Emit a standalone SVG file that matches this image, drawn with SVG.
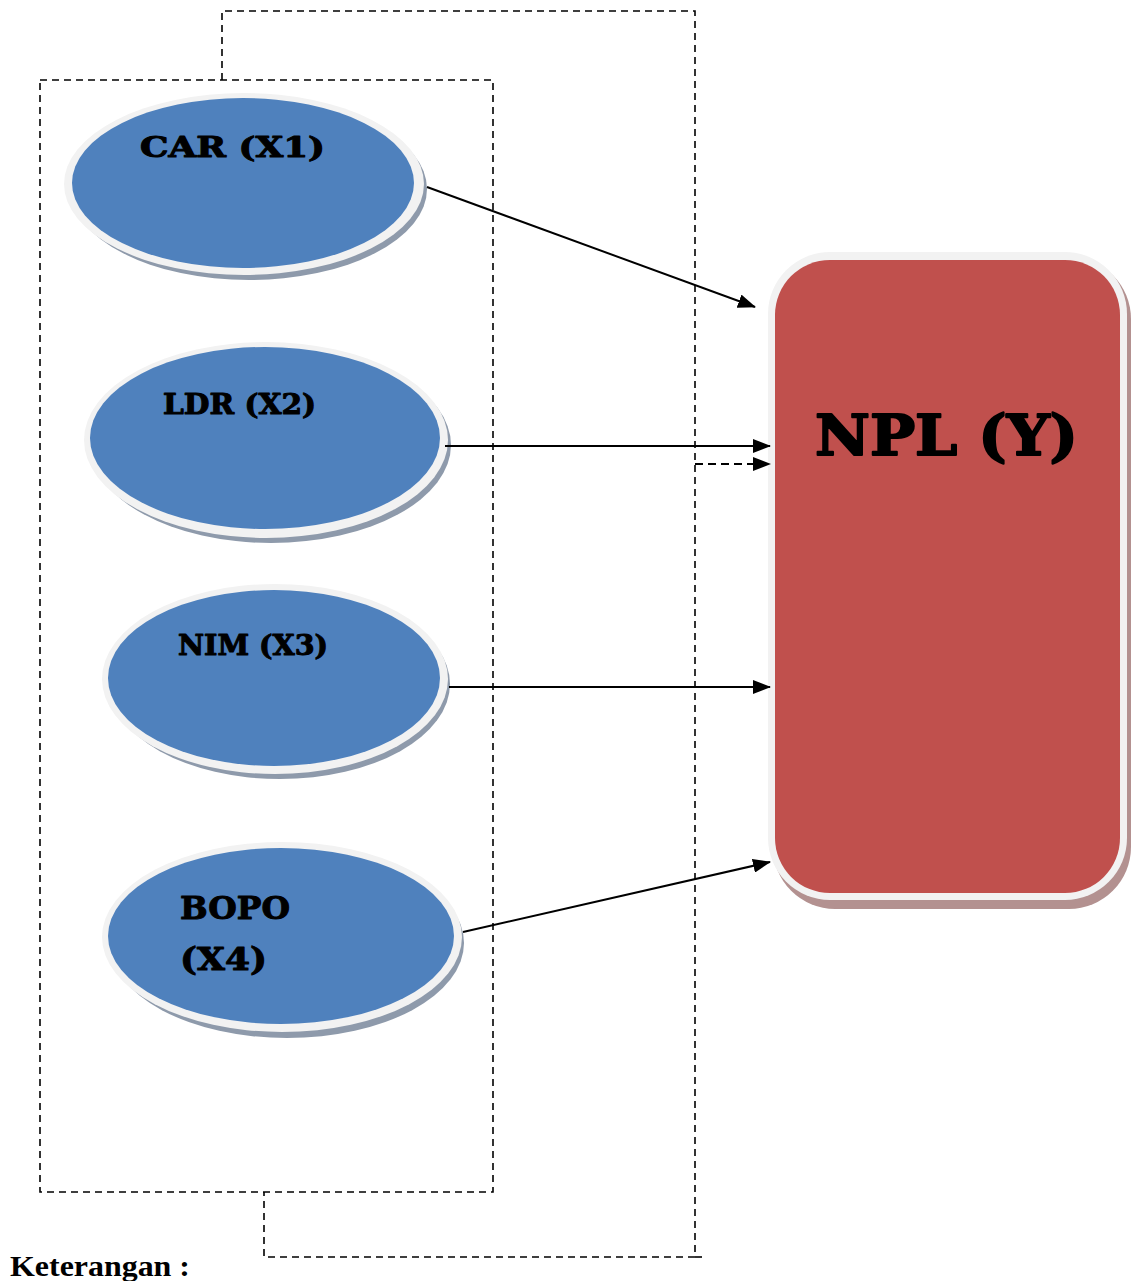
<svg xmlns="http://www.w3.org/2000/svg" width="1139" height="1281" viewBox="0 0 1139 1281">
<style>
.dash{fill:none;stroke:#000;stroke-width:1.6;stroke-dasharray:7,5}
.conn{fill:none;stroke:#000;stroke-width:2}
.shadowE{fill:#8e9aab}
.rimE{fill:#f2f2f2}
.bodyE{fill:#4f81bd}
.lbl{font-family:"DejaVu Serif","Liberation Serif",serif;font-weight:bold;fill:#000;stroke:#000;stroke-width:1;stroke-linejoin:round}
</style>
<defs>
<marker id="ahb" markerWidth="18" markerHeight="14" refX="17" refY="7" orient="auto" markerUnits="userSpaceOnUse" viewBox="0 0 18 14">
<path d="M0,0 L18,7 L0,14 z" fill="#000"/>
</marker>
</defs>
<rect width="1139" height="1281" fill="#fff"/>
<g id="groups">
<rect class="dash" x="40" y="80" width="453" height="1112"/>
<path class="dash" d="M222,80 V11 H695 V1257 H264 V1192"/>
<line class="dash" x1="695" y1="1257" x2="706" y2="1257"/>
</g>
<g id="node-car">
<ellipse class="shadowE" cx="249" cy="189" rx="178" ry="91"/>
<ellipse class="rimE" cx="244" cy="184" rx="180" ry="91"/>
<ellipse class="bodyE" cx="243" cy="183" rx="171" ry="85"/>
<text class="lbl" x="140" y="157" font-size="27" textLength="185" lengthAdjust="spacingAndGlyphs">CAR (X1)</text>
</g>
<g id="node-ldr">
<ellipse class="shadowE" cx="271" cy="445" rx="180" ry="98"/>
<ellipse class="rimE" cx="266" cy="440" rx="182" ry="98"/>
<ellipse class="bodyE" cx="265" cy="438" rx="175" ry="91"/>
<text class="lbl" x="163" y="414" font-size="27" textLength="153" lengthAdjust="spacingAndGlyphs">LDR (X2)</text>
</g>
<g id="node-nim">
<ellipse class="shadowE" cx="280" cy="684" rx="170" ry="95"/>
<ellipse class="rimE" cx="275" cy="679" rx="173" ry="95"/>
<ellipse class="bodyE" cx="274" cy="678" rx="166" ry="88"/>
<text class="lbl" x="178" y="655" font-size="27" textLength="150" lengthAdjust="spacingAndGlyphs">NIM (X3)</text>
</g>
<g id="node-bopo">
<ellipse class="shadowE" cx="287" cy="943" rx="177" ry="95"/>
<ellipse class="rimE" cx="282" cy="937" rx="180" ry="95"/>
<ellipse class="bodyE" cx="281" cy="936" rx="173" ry="88"/>
<text class="lbl" x="180" y="919" font-size="32" textLength="110" lengthAdjust="spacingAndGlyphs">BOPO</text>
<text class="lbl" x="180" y="970" font-size="32" textLength="87" lengthAdjust="spacingAndGlyphs">(X4)</text>
</g>
<g id="node-npl">
<rect x="773" y="257" width="358" height="652" rx="62" fill="#b39190"/>
<rect x="768" y="252" width="359" height="648" rx="62" fill="#f2f2f2"/>
<rect x="775" y="260" width="345" height="633" rx="55" fill="#c0504d"/>
<text class="lbl" x="815" y="455" font-size="56" textLength="263" lengthAdjust="spacingAndGlyphs" style="stroke-width:2">NPL (Y)</text>
</g>
<g id="connectors">
<line class="conn" x1="427" y1="187" x2="755" y2="307" marker-end="url(#ahb)"/>
<line class="conn" x1="445" y1="446" x2="770" y2="446" marker-end="url(#ahb)"/>
<line class="conn" x1="449" y1="687" x2="770" y2="687" marker-end="url(#ahb)"/>
<line class="conn" x1="463" y1="932" x2="770" y2="862" marker-end="url(#ahb)"/>
<line x1="695" y1="464" x2="770" y2="464" stroke="#000" stroke-width="2.2" stroke-dasharray="8,5" marker-end="url(#ahb)"/>
</g>
<text x="10" y="1276" font-family="Liberation Serif,serif" font-weight="bold" font-size="30" textLength="180" lengthAdjust="spacingAndGlyphs">Keterangan :</text>
</svg>
